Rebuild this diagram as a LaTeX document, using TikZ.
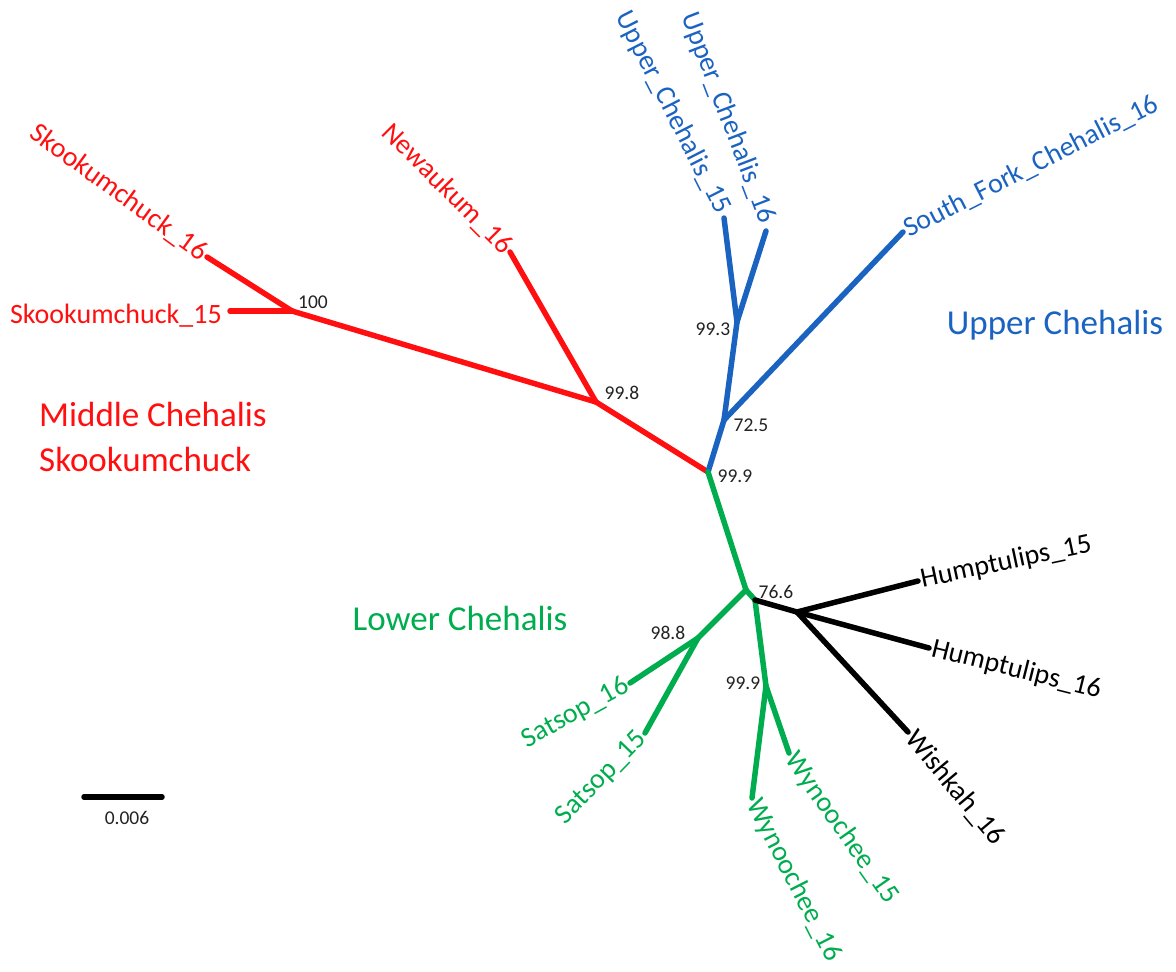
\documentclass[tikz,border=0pt]{standalone}
\usepackage{fontspec}
\setmainfont{Carlito}
\definecolor{tred}{HTML}{FF0F0F}
\definecolor{tblue}{HTML}{1B63C1}
\definecolor{tgreen}{HTML}{00AD4E}
\definecolor{tgray}{HTML}{222222}
\begin{document}
\begin{tikzpicture}[x=1pt,y=-1pt,
  br/.style={line width=5.5pt, line cap=round, line join=round},
  leaf/.style={font=\fontsize{28}{31}\selectfont, inner sep=3pt},
  boot/.style={font=\fontsize{19.5}{22}\selectfont, text=tgray, inner sep=1pt},
  grp/.style={font=\fontsize{35}{45}\selectfont, align=left, inner sep=0pt}]
\useasboundingbox (0,0) rectangle (1176,972);
% nodes of the tree
\coordinate (n100) at (292,311);
\coordinate (sk15) at (230,311);
\coordinate (sk16) at (207,257);
\coordinate (n998) at (596,402);
\coordinate (new16) at (510,252);
\coordinate (root) at (708,472);
\coordinate (n725) at (724,420);
\coordinate (sf16) at (903,232);
\coordinate (n993) at (737,322);
\coordinate (uc15) at (724,218);
\coordinate (uc16) at (766,231);
\coordinate (n766) at (746,590);
\coordinate (n766b) at (755,600);
\coordinate (n988) at (698,638);
\coordinate (sat16) at (630,683);
\coordinate (sat15) at (645,733);
\coordinate (n999w) at (766,686);
\coordinate (wyn16) at (752,798);
\coordinate (wyn15) at (789,753);
\coordinate (nh) at (797,612);
\coordinate (hum15) at (918,581);
\coordinate (hum16) at (929,648);
\coordinate (wis16) at (908,732);
\coordinate (sb1) at (84,797);
\coordinate (sb2) at (162,797);
% branches
\draw[br, tred] (n100) -- (sk15);
\draw[br, tred] (n100) -- (sk16);
\draw[br, tred] (n100) -- (n998);
\draw[br, tred] (n998) -- (new16);
\draw[br, tred] (n998) -- (root);
\draw[br, tblue] (root) -- (n725);
\draw[br, tblue] (n725) -- (sf16);
\draw[br, tblue] (n725) -- (n993);
\draw[br, tblue] (n993) -- (uc15);
\draw[br, tblue] (n993) -- (uc16);
\draw[br, tgreen] (root) -- (n766);
\draw[br, tgreen] (n766) -- (n988);
\draw[br, tgreen] (n988) -- (sat16);
\draw[br, tgreen] (n988) -- (sat15);
\draw[br, tgreen] (n766) -- (n766b) -- (n999w);
\draw[br, tgreen] (n999w) -- (wyn16);
\draw[br, tgreen] (n999w) -- (wyn15);
\draw[br, black] (n766b) -- (nh);
\draw[br, black] (nh) -- (hum15);
\draw[br, black] (nh) -- (hum16);
\draw[br, black] (nh) -- (wis16);
\draw[br, black] (sb1) -- (sb2);
% leaf labels
\node[leaf, text=tred, anchor=east, rotate=-36] (lsk16) at (sk16) {Skookumchuck\_16};
\node[leaf, text=tred, anchor=east] (lsk15) at (225,316) {Skookumchuck\_15};
\node[leaf, text=tred, anchor=east, rotate=-45] (lnew16) at (new16) {Newaukum\_16};
\node[leaf, text=tblue, anchor=east, rotate=-63] (luc15) at ([shift={(1,-3)}]uc15) {Upper\_Chehalis\_15};
\node[leaf, text=tblue, anchor=east, rotate=-69] (luc16) at ([shift={(3,-6)}]uc16) {Upper\_Chehalis\_16};
\node[leaf, text=tblue, anchor=west, rotate=27] (lsf16) at (sf16) {South\_Fork\_Chehalis\_16};
\node[leaf, text=tgreen, anchor=east, rotate=29] (lsat16) at (sat16) {Satsop\_16};
\node[leaf, text=tgreen, anchor=east, rotate=46] (lsat15) at (sat15) {Satsop\_15};
\node[leaf, text=tgreen, anchor=west, rotate=-63] (lwyn16) at (wyn16) {Wynoochee\_16};
\node[leaf, text=tgreen, anchor=west, rotate=-55] (lwyn15) at (wyn15) {Wynoochee\_15};
\node[leaf, text=black, anchor=west, rotate=-50] (lwis16) at (wis16) {Wishkah\_16};
\node[leaf, text=black, anchor=west, rotate=12] (lhum15) at (hum15) {Humptulips\_15};
\node[leaf, text=black, anchor=west, rotate=-14] (lhum16) at (hum16) {Humptulips\_16};
% support values
\node[boot] (b100) at (313,302) {100};
\node[boot] (b998) at (622,393) {99.8};
\node[boot] (b999r) at (735,476) {99.9};
\node[boot] (b725) at (751,425) {72.5};
\node[boot] (b993) at (713,329) {99.3};
\node[boot] (b766) at (776,592) {76.6};
\node[boot] (b988) at (668,633) {98.8};
\node[boot] (b999w) at (743,683) {99.9};
\node[boot] (bscale) at (127,818) {0.006};
% group labels
\node[grp, text=tred, anchor=west] (gmid) at (39,437) {Middle Chehalis\\Skookumchuck};
\node[grp, text=tblue] (gup) at (1055,325) {Upper Chehalis};
\node[grp, text=tgreen] (glow) at (460,618) {Lower Chehalis};
\end{tikzpicture}
\end{document}
